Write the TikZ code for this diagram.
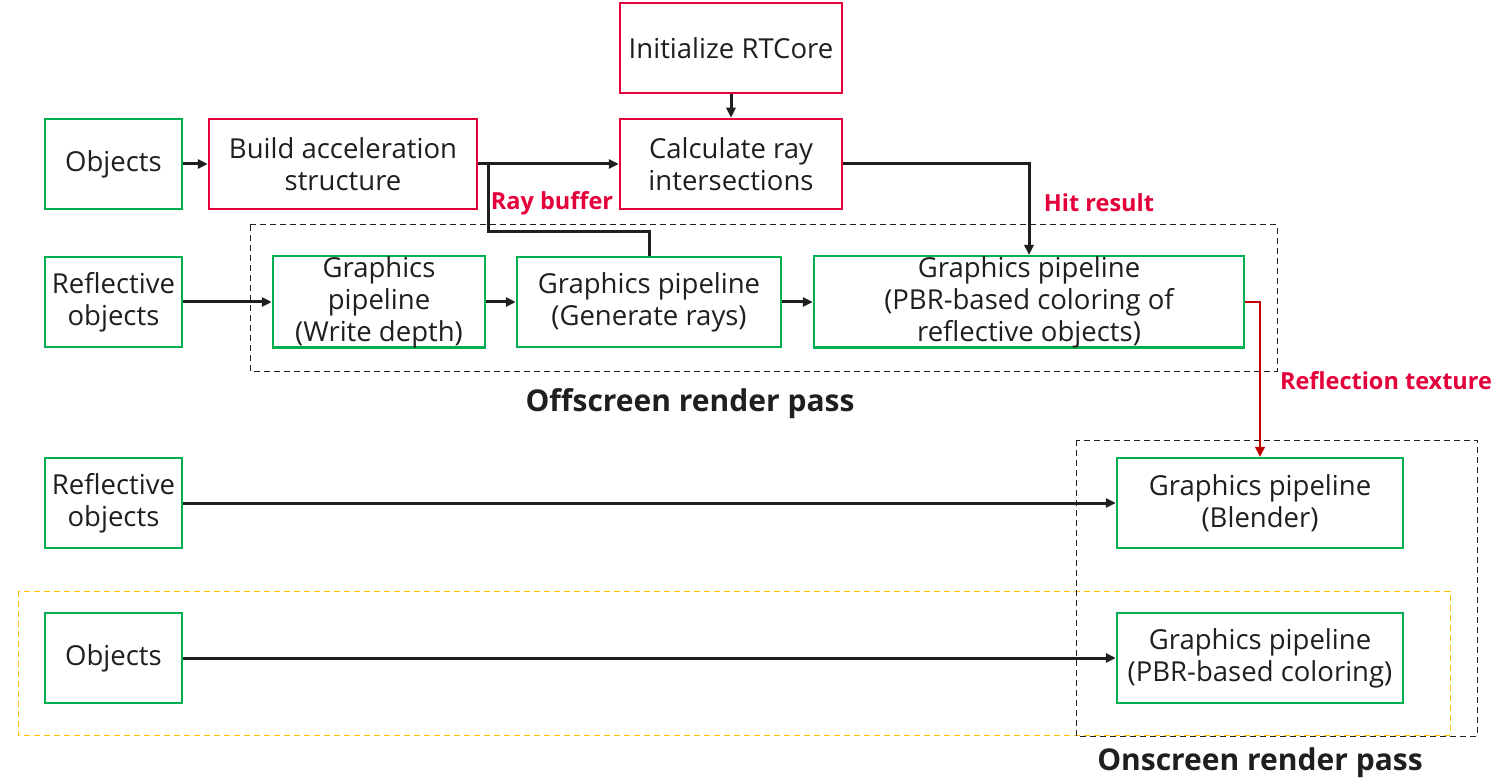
\documentclass[tikz,border=0pt]{standalone}
\usepackage{fontspec}
\setmainfont{Open Sans}
\usetikzlibrary{arrows.meta}
\definecolor{rred}{HTML}{E4003B}
\definecolor{ggreen}{HTML}{00B050}
\definecolor{yyel}{HTML}{FFC000}
\definecolor{txt}{HTML}{1F1F1F}
\definecolor{dred}{HTML}{C00000}
\begin{document}
\begin{tikzpicture}[x=1pt,y=-1pt,
  box/.style={draw, line width=2.5pt, align=center, text=txt, font=\fontsize{27.5}{32}\selectfont, inner sep=0pt, minimum height=90pt},
  gbox/.style={box, draw=ggreen},
  rbox/.style={box, draw=rred},
  conn/.style={draw=txt, line width=3pt, -{Triangle[length=10pt,width=9pt]}},
  plain/.style={draw=txt, line width=3pt},
  redconn/.style={draw=dred, line width=1.3pt, -{Triangle[length=10pt,width=10pt]}},
  region/.style={draw=txt, line width=1pt, dash pattern=on 6pt off 4pt},
  yregion/.style={draw=yyel, line width=1pt, dash pattern=on 6pt off 4pt},
  passlabel/.style={font=\fontsize{30}{34}\selectfont\bfseries, text=txt, inner sep=0pt},
  redlabel/.style={font=\fontsize{23.5}{26}\selectfont\bfseries, text=rred, inner sep=0pt}
]
\useasboundingbox (0,0) rectangle (1501,783);
\fill[white] (0,0) rectangle (1501,783);

% dashed regions
\draw[yregion] (18,591) rectangle (1450,735);
\draw[region] (250,225) rectangle (1277,371);
\draw[region] (1076,440) rectangle (1477,736);

% nodes
\node[gbox, minimum width=137pt] (obj1) at (113.5,164) {Objects};
\node[rbox, minimum width=268pt] (build) at (343,164) {Build acceleration\\structure};
\node[rbox, minimum width=222pt] (init) at (731,48) {Initialize RTCore};
\node[rbox, minimum width=222pt] (calc) at (731,164) {Calculate ray\\intersections};
\node[gbox, minimum width=137pt] (refl1) at (113.5,302) {Reflective\\objects};
\node[gbox, minimum width=212pt] (wd) at (379,302) {Graphics\\pipeline\\(Write depth)};
\node[gbox, minimum width=264pt] (gr) at (649,302) {Graphics pipeline\\(Generate rays)};
\node[gbox, minimum width=430pt] (pbr) at (1029,302) {Graphics pipeline\\(PBR-based coloring of\\reflective objects)};
\node[gbox, minimum width=137pt] (refl2) at (113.5,503) {Reflective\\objects};
\node[gbox, minimum width=286pt] (blend) at (1260,503) {Graphics pipeline\\(Blender)};
\node[gbox, minimum width=137pt] (obj2) at (113.5,658) {Objects};
\node[gbox, minimum width=286pt] (pbrc) at (1260,658) {Graphics pipeline\\(PBR-based coloring)};

% labels
\node[passlabel] (offl) at (690,404) {Offscreen render pass};
\node[passlabel] (onl) at (1260,763) {Onscreen render pass};
\node[redlabel] (rayb) at (552,203) {Ray buffer};
\node[redlabel] (hit) at (1099,203) {Hit result};
\node[redlabel] (refl) at (1386,381) {Reflection texture};

% connectors
\coordinate (j) at (488,164);
\draw[conn] (obj1) -- (build);
\draw[conn] (build.east) -- (calc.west);
\draw[plain] (gr.north) -- ++(0,-24) -| (j);
\draw[conn] (init) -- (calc);
\draw[conn] (calc.east) -| (pbr.north);
\draw[conn] (refl1) -- (wd);
\draw[conn] (wd) -- (gr);
\draw[conn] (gr) -- (pbr);
\draw[redconn] (pbr.east) -| (blend.north);
\draw[conn] (refl2) -- (blend);
\draw[conn] (obj2) -- (pbrc);
\end{tikzpicture}
\end{document}
